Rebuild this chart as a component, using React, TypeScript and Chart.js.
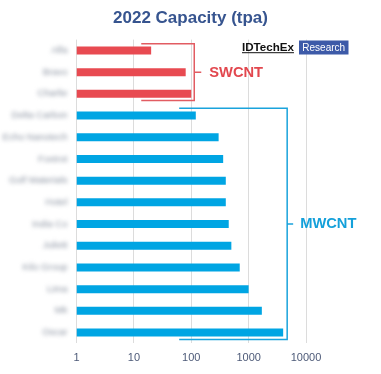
import { useEffect, useRef } from "react";
import { Chart, registerables } from "chart.js";

Chart.register(...registerables);

const titleText = "2022 Capacity (tpa)";
const swcntLabels = ["Alfa", "Bravo", "Charlie"];
const swcntValues = [20, 80, 100];
const mwcntLabels = [
  "Delta Carbon",
  "Echo Nanotech",
  "Foxtrot",
  "Golf Materials",
  "Hotel",
  "India Co",
  "Juliett",
  "Kilo Group",
  "Lima",
  "Mk",
  "Oscar",
];
const mwcntValues = [120, 300, 360, 400, 400, 450, 500, 700, 1000, 1700, 4000];
const tickValues = [1, 10, 100, 1000, 10000];
const groupNames = ["SWCNT", "MWCNT"];
const logoText = "IDTechEx";
const logoBadge = "Research";

const RED = "#e84a51";
const BLUE = "#00a5e3";
const FONT = "'Liberation Sans', Arial, sans-serif";

const overlayPlugin = {
  id: "overlay",
  afterDraw(chart: any) {
    const ctx = chart.ctx as CanvasRenderingContext2D;
    const xs = chart.scales.x;
    const ys = chart.scales.y;
    const area = chart.chartArea;
    const W = chart.width;
    ctx.save();

    // title
    ctx.fillStyle = "#36548f";
    ctx.font = `bold 17px ${FONT}`;
    ctx.textAlign = "center";
    ctx.textBaseline = "alphabetic";
    ctx.fillText(titleText, W / 2, 22.7);

    // logo
    ctx.font = `bold 11.6px ${FONT}`;
    ctx.textAlign = "left";
    ctx.fillStyle = "#111111";
    const lx = 242;
    ctx.fillText(logoText, lx, 50.5);
    const lw = ctx.measureText(logoText).width;
    ctx.fillRect(lx, 52.2, lw, 1);
    ctx.fillStyle = "#3d5aa8";
    ctx.fillRect(299, 40.5, 49.5, 14);
    ctx.fillStyle = "#ffffff";
    ctx.font = `10px ${FONT}`;
    ctx.textAlign = "center";
    ctx.fillText(logoBadge, 323.7, 51.3);

    // category labels (blurred)
    const labels = chart.data.labels as string[];
    ctx.filter = "blur(2.3px)";
    ctx.fillStyle = "#8a92a0";
    ctx.font = `9.5px ${FONT}`;
    ctx.textAlign = "right";
    ctx.textBaseline = "middle";
    labels.forEach((lab, i) => {
      ctx.fillText(lab, area.left - 9, ys.getPixelForValue(i));
    });
    ctx.filter = "none";

    const sp = ys.getPixelForValue(1) - ys.getPixelForValue(0);

    // SWCNT bracket
    const nS = swcntValues.length;
    const rTop = ys.getPixelForValue(0) - 0.31 * sp;
    const rBot = ys.getPixelForValue(nS - 1) + 0.31 * sp;
    const rRight = xs.getPixelForValue(Math.max(...swcntValues)) + 3;
    const rLeft = rRight - 53;
    ctx.strokeStyle = "#e25c62";
    ctx.lineWidth = 1.5;
    ctx.beginPath();
    ctx.moveTo(rLeft, rTop);
    ctx.lineTo(rRight, rTop);
    ctx.lineTo(rRight, rBot);
    ctx.lineTo(rLeft, rBot);
    const rMid = (rTop + rBot) / 2;
    ctx.moveTo(rRight, rMid);
    ctx.lineTo(rRight + 7, rMid);
    ctx.stroke();
    ctx.fillStyle = "#e2474e";
    ctx.font = `bold 14.7px ${FONT}`;
    ctx.textAlign = "left";
    ctx.textBaseline = "middle";
    ctx.fillText(groupNames[0], rRight + 15, rMid + 0.5);

    // MWCNT bracket
    const n = labels.length;
    const bTop = ys.getPixelForValue(nS) - 0.335 * sp;
    const bBot = ys.getPixelForValue(n - 1) + 0.32 * sp;
    const bRight = xs.getPixelForValue(Math.max(...mwcntValues)) + 4;
    const bLeft = bRight - 108;
    ctx.strokeStyle = "#1aa3dc";
    ctx.lineWidth = 1.5;
    ctx.beginPath();
    ctx.moveTo(bLeft, bTop);
    ctx.lineTo(bRight, bTop);
    ctx.lineTo(bRight, bBot);
    ctx.lineTo(bLeft, bBot);
    const bMid = (bTop + bBot) / 2;
    ctx.moveTo(bRight, bMid);
    ctx.lineTo(bRight + 6, bMid);
    ctx.stroke();
    ctx.fillStyle = "#14a0da";
    ctx.font = `bold 14.7px ${FONT}`;
    ctx.fillText(groupNames[1], bRight + 13, bMid + 0.5);

    ctx.restore();
  },
};

export default function App() {
  const ref = useRef<HTMLCanvasElement | null>(null);

  useEffect(() => {
    if (!ref.current) return;
    const labels = [...swcntLabels, ...mwcntLabels];
    const values = [...swcntValues, ...mwcntValues];
    const colors = [...swcntValues.map(() => RED), ...mwcntValues.map(() => BLUE)];
    const chart = new Chart(ref.current, {
      type: "bar",
      data: {
        labels,
        datasets: [
          {
            data: values,
            backgroundColor: colors,
            borderWidth: 0,
            barPercentage: 0.37,
            categoryPercentage: 1,
          },
        ],
      },
      options: {
        indexAxis: "y",
        responsive: false,
        animation: false,
        devicePixelRatio: 1,
        layout: { padding: { top: 39.6, left: 76.5, right: 75, bottom: 0 } },
        plugins: {
          legend: { display: false },
          tooltip: { enabled: false },
          title: { display: false },
        },
        scales: {
          x: {
            type: "logarithmic",
            min: 1,
            max: 10000,
            afterBuildTicks: (scale: any) => {
              scale.ticks = tickValues.map((v) => ({ value: v }));
            },
            afterFit: (scale: any) => {
              scale.height = 30.6;
            },
            grid: { color: "#dcdcdc", lineWidth: 1, drawTicks: false },
            border: { display: false },
            ticks: {
              autoSkip: false,
              maxRotation: 0,
              padding: 8,
              color: "#4d5a78",
              font: { family: FONT, size: 11 },
              callback: (v: any) => String(v),
            },
          },
          y: {
            type: "category",
            display: false,
          },
        },
      },
      plugins: [overlayPlugin],
    } as any);
    return () => chart.destroy();
  }, []);

  return (
    <div style={{ position: "absolute", left: 0, top: 0, width: 381, height: 374, background: "#ffffff" }}>
      <canvas ref={ref} width={381} height={374} style={{ display: "block", width: 381, height: 374 }} />
    </div>
  );
}
